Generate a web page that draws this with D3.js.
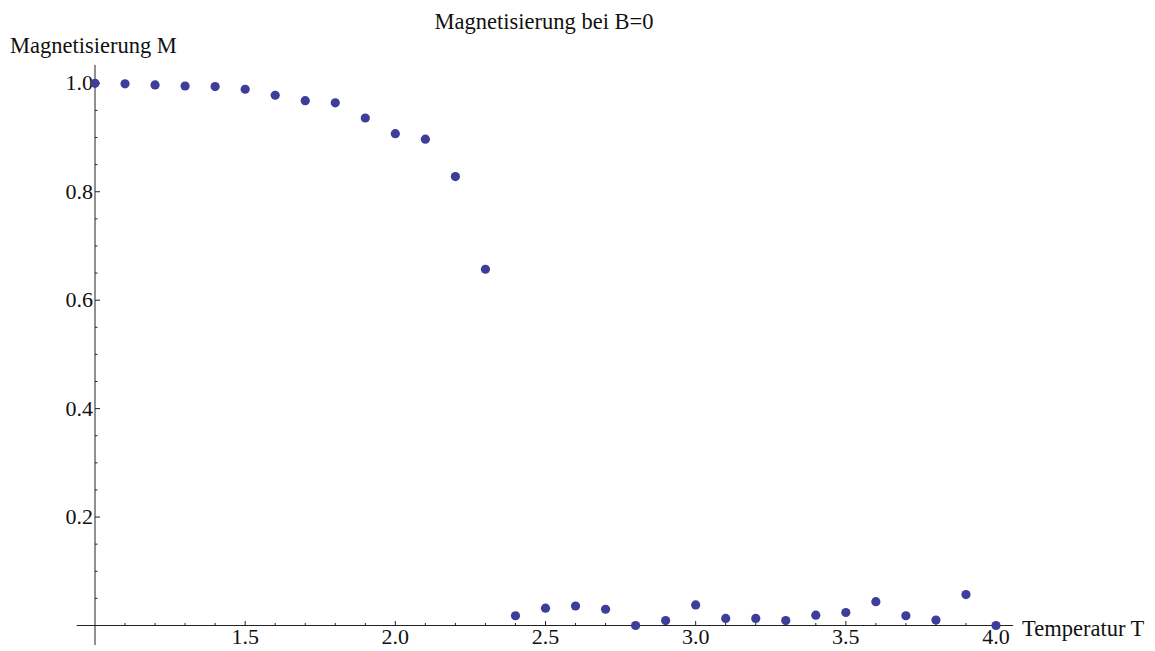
<!DOCTYPE html>
<html>
<head>
<meta charset="utf-8">
<script src="https://cdn.jsdelivr.net/npm/d3@7"></script>
<style>
  body { margin: 0; background: #fff; }
  text { font-family: "Liberation Serif", "DejaVu Serif", serif; fill: #111; }
</style>
</head>
<body>
<div id="chart"></div>
<script>
// temperature values and measured magnetisation
const temps = [1.0, 1.1, 1.2, 1.3, 1.4, 1.5, 1.6, 1.7, 1.8, 1.9, 2.0, 2.1, 2.2, 2.3,
    2.4, 2.5, 2.6, 2.7, 2.8, 2.9, 3.0, 3.1, 3.2, 3.3, 3.4, 3.5, 3.6, 3.7, 3.8, 3.9, 4.0];
const magnet = [1.0, 0.999, 0.997, 0.995, 0.994, 0.989, 0.978, 0.968, 0.964, 0.936, 0.907, 0.897, 0.828, 0.657,
    0.018, 0.032, 0.036, 0.030, 0.0, 0.009, 0.038, 0.013, 0.013, 0.009, 0.019, 0.024, 0.044, 0.018, 0.010, 0.057, 0.0];

const xMajor = [1.5, 2.0, 2.5, 3.0, 3.5, 4.0];
const yMajor = [0.2, 0.4, 0.6, 0.8, 1.0];

const width = 1155, height = 651;

const svg = d3.select("#chart").append("svg")
    .attr("width", width)
    .attr("height", height);

const xScale = d3.scaleLinear().domain([1.0, 4.0]).range([95, 996]);
const yScale = d3.scaleLinear().domain([0, 1.0]).range([625.5, 83.3]);

const axisColor = "#222";

// axes lines, crossing at (1, 0)
svg.append("line")
    .attr("x1", xScale(0.939)).attr("x2", xScale(4.057))
    .attr("y1", yScale(0)).attr("y2", yScale(0))
    .attr("stroke", axisColor).attr("stroke-width", 1);
svg.append("line")
    .attr("x1", xScale(1.0)).attr("x2", xScale(1.0))
    .attr("y1", yScale(-0.036)).attr("y2", yScale(1.034))
    .attr("stroke", axisColor).attr("stroke-width", 1);

// x ticks: minor every 0.1, major every 0.5
const xMinor = d3.range(10, 41).map(d => d / 10).filter(d => d > 1.0);
svg.append("g").selectAll("line")
    .data(xMinor)
    .enter().append("line")
    .attr("x1", d => xScale(d)).attr("x2", d => xScale(d))
    .attr("y1", yScale(0))
    .attr("y2", d => yScale(0) - (xMajor.some(m => Math.abs(m - d) < 1e-9) ? 4.5 : 2.5))
    .attr("stroke", axisColor).attr("stroke-width", 1);

svg.append("g").selectAll("text")
    .data(xMajor)
    .enter().append("text")
    .attr("x", d => xScale(d))
    .attr("y", yScale(0) + 18)
    .attr("text-anchor", "middle")
    .attr("font-size", 22)
    .text(d => d.toFixed(1));

// y ticks: minor every 0.05, major every 0.2
const yMinor = d3.range(1, 21).map(d => d / 20);
svg.append("g").selectAll("line")
    .data(yMinor)
    .enter().append("line")
    .attr("x1", xScale(1.0))
    .attr("x2", d => xScale(1.0) + (yMajor.some(m => Math.abs(m - d) < 1e-9) ? 5 : 2.5))
    .attr("y1", d => yScale(d)).attr("y2", d => yScale(d))
    .attr("stroke", axisColor).attr("stroke-width", 1);

svg.append("g").selectAll("text")
    .data(yMajor)
    .enter().append("text")
    .attr("x", xScale(1.0) - 2)
    .attr("y", d => yScale(d) + 7)
    .attr("text-anchor", "end")
    .attr("font-size", 22)
    .text(d => d.toFixed(1));

// data points
svg.append("g").selectAll("circle")
    .data(temps.map((t, i) => [t, magnet[i]]))
    .enter().append("circle")
    .attr("cx", d => xScale(d[0]))
    .attr("cy", d => yScale(d[1]))
    .attr("r", 4.6)
    .attr("fill", "#3d3d9a");

// labels
svg.append("text")
    .attr("x", 544).attr("y", 29)
    .attr("text-anchor", "middle")
    .attr("font-size", 22.5)
    .text("Magnetisierung bei B=0");

svg.append("text")
    .attr("x", 10).attr("y", 53)
    .attr("font-size", 22.5)
    .text("Magnetisierung M");

svg.append("text")
    .attr("x", 1022).attr("y", 636)
    .attr("font-size", 22.5)
    .text("Temperatur T");
</script>
</body>
</html>
